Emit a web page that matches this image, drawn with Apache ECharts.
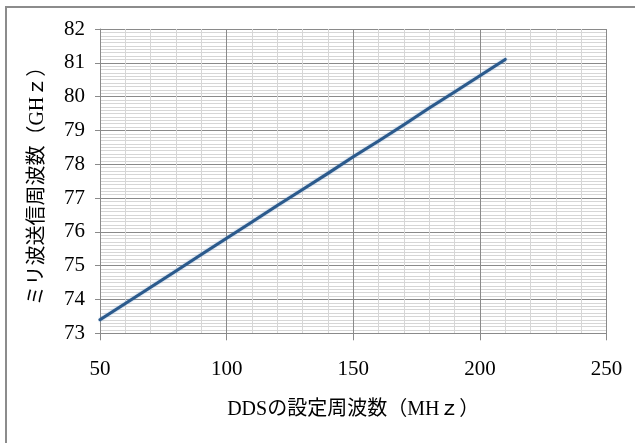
<!DOCTYPE html>
<html>
<head>
<meta charset="utf-8">
<script src="https://cdn.jsdelivr.net/npm/echarts@6/dist/echarts.min.js"></script>
<style>
  html, body { margin: 0; padding: 0; background: #fff; }
  #chart { width: 635px; height: 443px; }
</style>
</head>
<body>
<div id="chart"></div>
<script>
// DDS set frequency (MHz) and resulting mm-wave transmit frequency (GHz)
const ddsFreq = [50, 60, 70, 80, 90, 100, 110, 120, 130, 140, 150, 160, 170, 180, 190, 200, 210];
const mmWaveFreq = [73.40, 73.88, 74.36, 74.84, 75.33, 75.81, 76.29, 76.78, 77.25, 77.73, 78.22, 78.69, 79.17, 79.66, 80.14, 80.62, 81.10];

const xTitle = 'DDSの設定周波数（MHｚ）';
const yTitle = 'ミリ波送信周波数（GHｚ）';

const serif = '"Liberation Serif", "Noto Sans CJK JP", serif';
const majorColor = '#8a8a8a';
const minorColor = '#d6d6d6';

const chart = echarts.init(document.getElementById('chart'), null, { renderer: 'canvas' });

chart.setOption({
  animation: false,
  backgroundColor: '#ffffff',
  graphic: [{
    type: 'rect',
    shape: { x: 6, y: 7, width: 640, height: 450 },
    style: { fill: 'none', stroke: '#8c8c8c', lineWidth: 2 },
    silent: true,
    z: -1
  }],
  grid: { left: 100, right: 28.5, top: 29, bottom: 109.7 },
  xAxis: {
    type: 'value',
    min: 50, max: 250, interval: 50,
    name: xTitle,
    nameLocation: 'middle',
    nameGap: 66,
    nameTextStyle: { fontFamily: serif, fontSize: 20, color: '#000' },
    axisLine: { show: true, lineStyle: { color: majorColor, width: 1 } },
    axisTick: { show: true, length: 7, lineStyle: { color: majorColor } },
    axisLabel: { margin: 26, fontFamily: serif, fontSize: 21, color: '#000' },
    splitLine: { show: true, lineStyle: { color: majorColor, width: 1 } },
    minorTick: { show: false, splitNumber: 5 },
    minorSplitLine: { show: true, lineStyle: { color: minorColor, width: 1 } }
  },
  yAxis: {
    type: 'value',
    min: 73, max: 82, interval: 1,
    name: yTitle,
    nameLocation: 'middle',
    nameRotate: 90,
    nameGap: 52,
    nameTextStyle: { fontFamily: serif, fontSize: 20, color: '#000' },
    axisLine: { show: true, lineStyle: { color: majorColor, width: 1 } },
    axisTick: { show: true, length: 5, lineStyle: { color: majorColor } },
    axisLabel: { margin: 15, fontFamily: serif, fontSize: 21, color: '#000' },
    splitLine: { show: true, lineStyle: { color: majorColor, width: 1 } },
    minorTick: { show: false, splitNumber: 10 },
    minorSplitLine: { show: true, lineStyle: { color: minorColor, width: 1 } }
  },
  series: [{
    type: 'line',
    data: ddsFreq.map((x, i) => [x, mmWaveFreq[i]]),
    showSymbol: false,
    smooth: false,
    lineStyle: {
      color: '#2b5a8c',
      width: 3,
      cap: 'round',
      join: 'round',
      shadowColor: 'rgba(79,129,189,0.6)',
      shadowBlur: 2
    },
    z: 5
  }]
});
</script>
</body>
</html>
